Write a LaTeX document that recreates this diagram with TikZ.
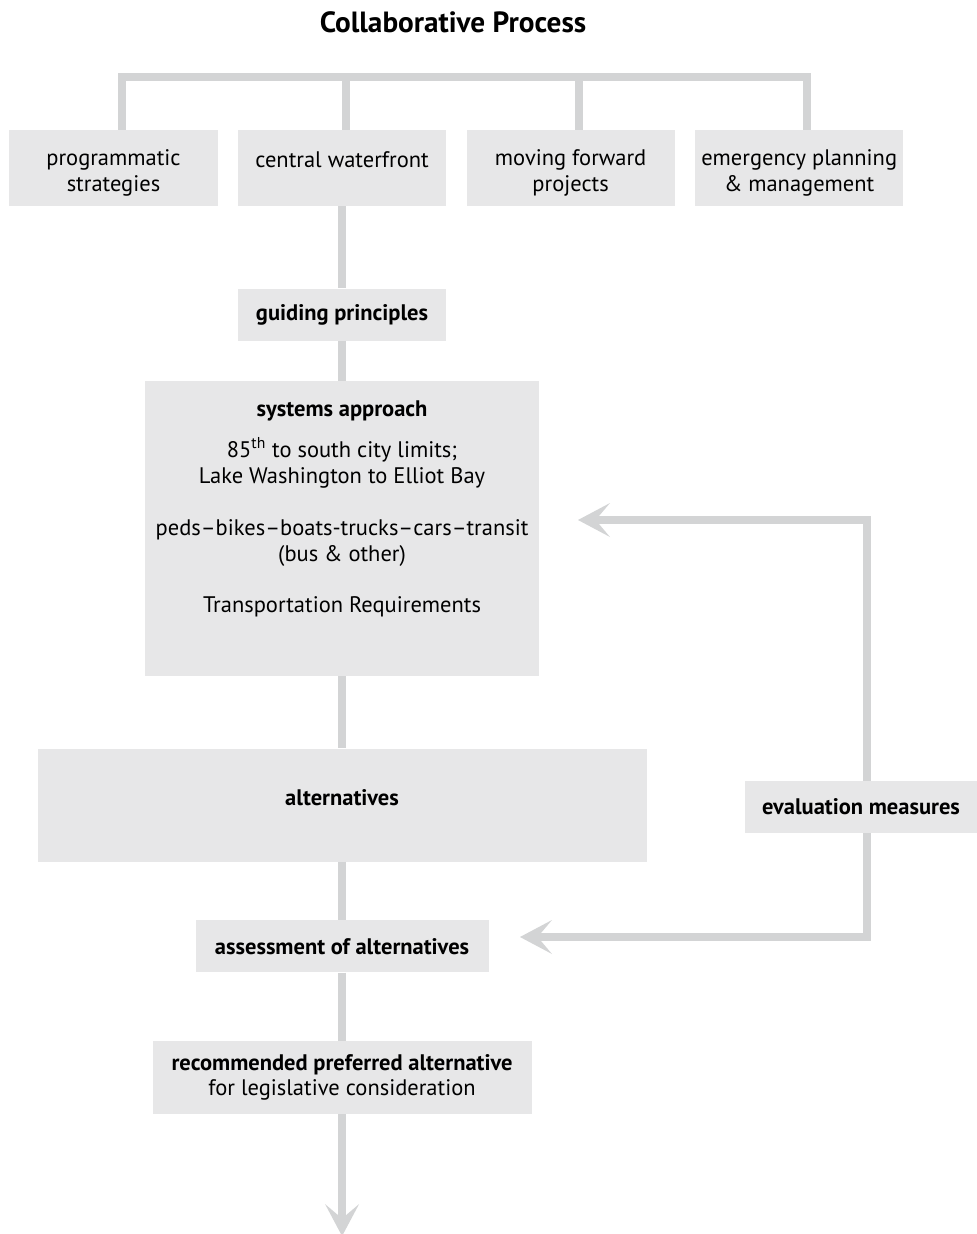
\documentclass[tikz,border=0pt]{standalone}
\usepackage{fontspec}
\setmainfont{PT Sans}
\usetikzlibrary{arrows.meta,positioning}
\definecolor{linegray}{HTML}{D3D4D5}
\definecolor{boxgray}{HTML}{E7E7E8}

\begin{document}
\begin{tikzpicture}[
  node distance=0.5cm,
  stage/.style={fill=boxgray, inner sep=2pt, align=center, font=\fontsize{16}{18.4}\selectfont},
  topstage/.style={stage, minimum width=5.2cm, minimum height=1.9cm},
  link/.style={draw=linegray, line width=0.2cm},
  flow/.style={link, -{Stealth[length=0.8cm, width=0.85cm, inset=0.36cm, line width=0pt]}}
]
\useasboundingbox (0,0) rectangle (24.425,-30.85);

\node[font=\fontsize{20.8}{24}\selectfont\bfseries] (title) at (11.325,-0.55) {Collaborative Process};

\node[topstage] (ps) at (2.8375,-4.2) {\rule{0pt}{18pt}programmatic\\strategies};
\node[topstage, right=of ps] (cw) {\rule{0pt}{18pt}central waterfront\\\mbox{}};
\node[topstage, right=of cw] (mf) {\rule{0pt}{18pt}moving forward\\projects};
\node[topstage, right=of mf] (ef) {\rule{0pt}{18pt}emergency planning\\\& management};

\node[stage, minimum width=5.2cm, minimum height=1.3cm, below=2.05cm of cw] (gp) {\bfseries guiding principles};
\node[stage, minimum width=9.85cm, minimum height=7.375cm, below=1cm of gp] (sys)
  {\bfseries systems approach\\[11pt]
   85\textsuperscript{th} to south city limits;\\
   Lake Washington to Elliot Bay\\[18.4pt]
   peds--bikes--boats-trucks--cars--transit\\
   (bus \& other)\\[18.4pt]
   Transportation Requirements\\[0.45cm]\mbox{}};
\node[stage, minimum width=15.225cm, minimum height=2.825cm, below=1.8cm of sys] (alt) {\bfseries alternatives\\[-8pt]\mbox{}};
\node[stage, minimum width=7.325cm, minimum height=1.3cm, below=1.45cm of alt] (as) {\bfseries assessment of alternatives};
\node[stage, minimum width=9.475cm, minimum height=1.825cm, below=1.7cm of as] (rec)
  {\bfseries recommended preferred alternative\\for legislative consideration};
\node[stage, minimum width=5.8cm, minimum height=1.3cm] (ev) at (21.525,-20.175) {\bfseries evaluation measures};

\coordinate (upin) at (14.45,-13);
\coordinate (downin) at (13,-23.425);
\coordinate (out) at ([yshift=-3.05cm]rec.south);

\draw[link] ([xshift=2mm]ps.north) -- ++(0,1.325) -| ([xshift=2mm]ef.north);
\draw[link] ([xshift=1mm]cw.north) -- ++(0,1.325);
\draw[link] ([xshift=2mm]mf.north) -- ++(0,1.325);

\draw[link] (cw) -- (gp);
\draw[link] (gp) -- (sys);
\draw[link] (sys) -- (alt);
\draw[link] (alt) -- (as);
\draw[link] (as) -- (rec);
\draw[flow] (rec) -- (out);

\draw[flow] ([xshift=1.5mm]ev.north) |- (upin);
\draw[flow] ([xshift=1.5mm]ev.south) |- (downin);

\end{tikzpicture}
\end{document}
